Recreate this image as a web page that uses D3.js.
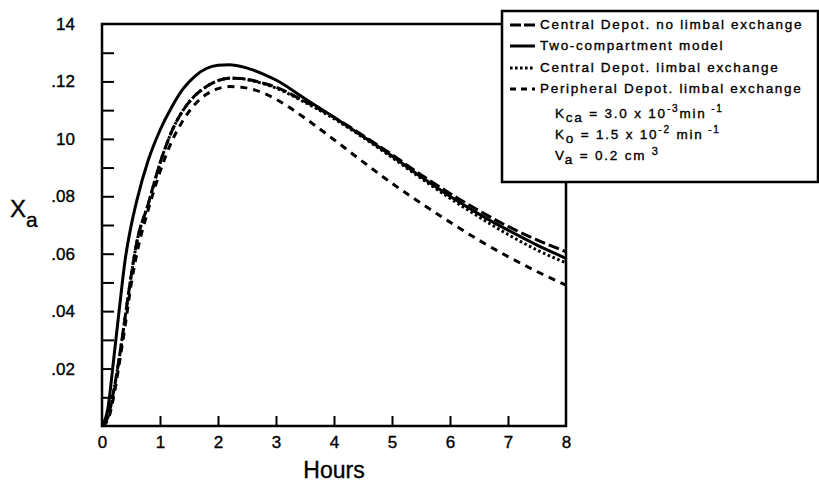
<!DOCTYPE html>
<html>
<head>
<meta charset="utf-8">
<script src="https://cdn.jsdelivr.net/npm/d3@7"></script>
<style>
  html, body { margin: 0; padding: 0; background: #fff; }
  svg { display: block; }
  text { font-family: "Liberation Sans", Arial, Helvetica, sans-serif; fill: #000; stroke: #000; stroke-width: 0.35px; }
</style>
</head>
<body>
<svg id="chart" width="819" height="483"></svg>
<script>
// Time grid (hours) shared by every curve
const hours = [0, 0.1, 0.2, 0.3, 0.4, 0.5, 0.6, 0.8, 1.0, 1.2, 1.4, 1.6, 1.8, 2.0, 2.2,
  2.4, 2.6, 2.8, 3.0, 3.5, 4.0, 4.5, 5.0, 5.5, 6.0, 6.5, 7.0, 7.5, 8.0];

// X_a for each model
const centralNoLimbal = [0, 0.003, 0.012, 0.024, 0.038, 0.052, 0.064, 0.0775, 0.0915, 0.1025,
  0.1100, 0.1150, 0.1182, 0.1203, 0.1211, 0.1210, 0.1203, 0.1193, 0.1180, 0.1130,
  0.1075, 0.1012, 0.0945, 0.0875, 0.0810, 0.0750, 0.0695, 0.0648, 0.0607];
const twoCompartment = [0, 0.006, 0.023, 0.041, 0.058, 0.0695, 0.0785, 0.0927, 0.1030, 0.1110,
  0.1175, 0.1218, 0.1245, 0.1256, 0.1258, 0.1252, 0.1240, 0.1224, 0.1205, 0.1140,
  0.1075, 0.1008, 0.0940, 0.0868, 0.0800, 0.0738, 0.0682, 0.0630, 0.0584];
const centralLimbal = [0, 0.003, 0.012, 0.024, 0.038, 0.052, 0.064, 0.0775, 0.0915, 0.1025,
  0.1100, 0.1150, 0.1182, 0.1203, 0.1211, 0.1210, 0.1202, 0.1191, 0.1177, 0.1127,
  0.1070, 0.1005, 0.0935, 0.0863, 0.0793, 0.0728, 0.0667, 0.0613, 0.0568];
const peripheralLimbal = [0, 0.002, 0.010, 0.022, 0.035, 0.049, 0.060, 0.0755, 0.0885, 0.0990,
  0.1065, 0.1120, 0.1155, 0.1175, 0.1182, 0.1180, 0.1172, 0.1158, 0.1138, 0.1072,
  0.0997, 0.0920, 0.0845, 0.0776, 0.0710, 0.0647, 0.0590, 0.0538, 0.0491];

const seriesNames = [
  "Central Depot. no limbal exchange",
  "Two-compartment model",
  "Central Depot. limbal exchange",
  "Peripheral Depot. limbal exchange"
];

// Axis ticks and labels
const xTickValues = [0, 1, 2, 3, 4, 5, 6, 7, 8];
const yMinorTicks = [0.01, 0.02, 0.03, 0.04, 0.05, 0.06, 0.07, 0.08, 0.09, 0.10, 0.11, 0.12, 0.13];
const yLabelValues = [0.02, 0.04, 0.06, 0.08, 0.10, 0.12, 0.14];
const yLabelTexts = [".02", ".04", ".06", ".08", "10", ".12", "14"];

const svg = d3.select("#chart");
const x = d3.scaleLinear().domain([0, 8]).range([102, 566]);
const y = d3.scaleLinear().domain([0, 0.14]).range([426, 24]);

const styles = [
  { dash: "11,4", width: 3 },
  { dash: null, width: 3 },
  { dash: "2.6,2.6", width: 3 },
  { dash: "7,6", width: 3 }
];
const seriesValues = [centralNoLimbal, twoCompartment, centralLimbal, peripheralLimbal];

// Left-axis inner ticks
svg.append("g")
  .attr("transform", `translate(${x(0)},0)`)
  .call(d3.axisLeft(y).tickValues(yMinorTicks).tickSize(-12).tickFormat(""))
  .call(g => g.select(".domain").remove())
  .call(g => g.selectAll("line").attr("stroke", "#000").attr("stroke-width", 2));

// Left-axis labels
const yLab = svg.append("g")
  .attr("transform", `translate(${x(0)},0)`)
  .call(d3.axisLeft(y).tickValues(yLabelValues).tickSize(0).tickPadding(27)
    .tickFormat((d, i) => yLabelTexts[i]))
  .call(g => g.select(".domain").remove());
yLab.selectAll("text").attr("font-size", 17).attr("font-family", "Liberation Sans, Arial, sans-serif")
  .attr("fill", "#000").attr("stroke", "#000").attr("stroke-width", 0.35);

// Bottom-axis inner ticks
svg.append("g")
  .attr("transform", `translate(0,${y(0)})`)
  .call(d3.axisBottom(x).tickValues(xTickValues.slice(1, -1)).tickSize(-10).tickFormat(""))
  .call(g => g.select(".domain").remove())
  .call(g => g.selectAll("line").attr("stroke", "#000").attr("stroke-width", 2));

// Bottom-axis labels
const xLab = svg.append("g")
  .attr("transform", `translate(0,${y(0)})`)
  .call(d3.axisBottom(x).tickValues(xTickValues).tickSize(0).tickPadding(10).tickFormat(d3.format("d")))
  .call(g => g.select(".domain").remove());
xLab.selectAll("text").attr("font-size", 17).attr("font-family", "Liberation Sans, Arial, sans-serif")
  .attr("fill", "#000").attr("stroke", "#000").attr("stroke-width", 0.35);

// Curves
const line = d3.line().x((d, i) => x(hours[i])).y(d => y(d)).curve(d3.curveMonotoneX);
seriesValues.forEach((vals, k) => {
  svg.append("path")
    .datum(vals)
    .attr("d", line)
    .attr("fill", "none")
    .attr("stroke", "#000")
    .attr("stroke-width", styles[k].width)
    .attr("stroke-dasharray", styles[k].dash);
});

// Plot frame (open at the top-right where the legend box sits)
const legendBox = { x0: 502, y0: 11, x1: 818, y1: 182 };
svg.append("path")
  .attr("d", `M${legendBox.x0},${y(0.14)} H${x(0)} V${y(0)} H${x(8)} V${legendBox.y1}`)
  .attr("fill", "none").attr("stroke", "#000").attr("stroke-width", 2.5);

// Legend box
svg.append("rect")
  .attr("x", legendBox.x0).attr("y", legendBox.y0)
  .attr("width", legendBox.x1 - legendBox.x0).attr("height", legendBox.y1 - legendBox.y0)
  .attr("fill", "#fff").attr("stroke", "#000").attr("stroke-width", 2.5);

const legendRows = [29, 50, 72, 93];
seriesNames.forEach((name, k) => {
  const yy = legendRows[k] - 4;
  svg.append("line")
    .attr("x1", 510).attr("x2", 535).attr("y1", yy).attr("y2", yy)
    .attr("stroke", "#000").attr("stroke-width", 3)
    .attr("stroke-dasharray", k === 0 ? "11,3" : k === 2 ? "2.6,2.4" : k === 3 ? "6,5" : null);
  svg.append("text")
    .attr("x", 540).attr("y", legendRows[k])
    .attr("font-size", 13.5).attr("letter-spacing", 1.7)
    .text(name);
});

// Parameter annotations
function paramLine(yPos, parts) {
  const t = svg.append("text").attr("x", 555).attr("y", yPos)
    .attr("font-size", 13.5).attr("letter-spacing", 1.8);
  parts.forEach(p => {
    t.append("tspan")
      .attr("dy", p.dy || 0)
      .attr("font-size", p.size || 13.5)
      .text(p.s);
  });
}
paramLine(118, [
  { s: "K" }, { s: "ca", dy: 4 }, { s: " = 3.0 x 10", dy: -4 }, { s: "-3", dy: -6, size: 10 },
  { s: "min", dy: 6 }, { s: " -1", dy: -6, size: 10 }
]);
paramLine(139, [
  { s: "K" }, { s: "o", dy: 4 }, { s: " = 1.5 x 10", dy: -4 }, { s: "-2", dy: -6, size: 10 },
  { s: " min", dy: 6 }, { s: " -1", dy: -6, size: 10 }
]);
paramLine(160, [
  { s: "V" }, { s: "a", dy: 4 }, { s: " = 0.2 cm ", dy: -4 }, { s: "3", dy: -5, size: 11 }
]);

// Axis titles
const yt = svg.append("text").attr("x", 10).attr("y", 217).attr("font-size", 24);
yt.append("tspan").text("X");
yt.append("tspan").attr("dy", 10).attr("font-size", 21).text("a");

svg.append("text")
  .attr("x", (x(0) + x(8)) / 2).attr("y", 478)
  .attr("text-anchor", "middle").attr("font-size", 23)
  .text("Hours");
</script>
</body>
</html>
